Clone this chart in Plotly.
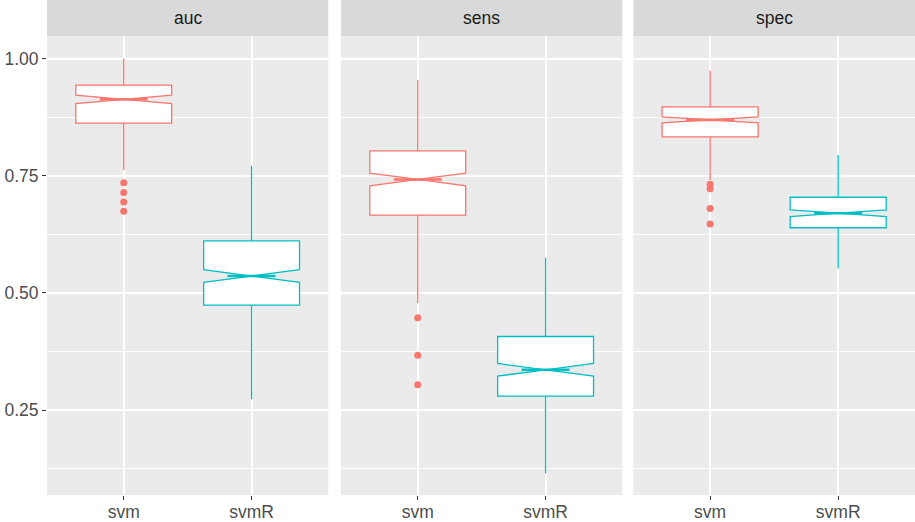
import plotly.graph_objects as go
from plotly.subplots import make_subplots

# facets and groups
metrics = ["auc", "sens", "spec"]
models = ["svm", "svmR"]
colors = ["#F8766D", "#00BFC4"]

# box statistics, one value per facet (auc, sens, spec)
svm_lower = [0.762, 0.478, 0.741]
svm_q1 = [0.862, 0.666, 0.833]
svm_median = [0.913, 0.742, 0.869]
svm_q3 = [0.943, 0.803, 0.897]
svm_upper = [1.000, 0.954, 0.974]
svm_notch = [0.009, 0.0135, 0.0065]

svmR_lower = [0.273, 0.115, 0.552]
svmR_q1 = [0.474, 0.280, 0.639]
svmR_median = [0.536, 0.336, 0.670]
svmR_q3 = [0.611, 0.407, 0.704]
svmR_upper = [0.771, 0.575, 0.794]
svmR_notch = [0.0135, 0.0135, 0.007]

# outliers (svm only)
svm_outliers = [
    [0.735, 0.714, 0.694, 0.674],
    [0.447, 0.367, 0.304],
    [0.732, 0.722, 0.680, 0.647],
]
svmR_outliers = [[], [], []]

y_ticks = [0.25, 0.50, 0.75, 1.00]
y_minor = [0.125, 0.375, 0.625, 0.875]

stats = {
    "svm": (svm_lower, svm_q1, svm_median, svm_q3, svm_upper, svm_notch, svm_outliers),
    "svmR": (svmR_lower, svmR_q1, svmR_median, svmR_q3, svmR_upper, svmR_notch, svmR_outliers),
}

box_w = 0.75
fig = make_subplots(rows=1, cols=3, shared_yaxes=True)

for i, m in enumerate(metrics):
    for j, mod in enumerate(models):
        lo, q1, med, q3, up, nt, outl = stats[mod]
        col = colors[j]
        fig.add_trace(go.Box(
            x=[j], q1=[q1[i]], median=[med[i]], q3=[q3[i]],
            lowerfence=[lo[i]], upperfence=[up[i]],
            notched=True, notchspan=[nt[i]], notchwidth=0.5,
            width=box_w, whiskerwidth=0,
            fillcolor="white", line=dict(color=col, width=1.3),
            boxpoints=False, showlegend=False, hoverinfo="skip",
        ), row=1, col=i + 1)
        # thicker median line across the notch waist
        hw = box_w / 4
        fig.add_trace(go.Scatter(
            x=[j - hw, j + hw], y=[med[i], med[i]], mode="lines",
            line=dict(color=col, width=2.6), showlegend=False, hoverinfo="skip",
        ), row=1, col=i + 1)
        if outl[i]:
            fig.add_trace(go.Scatter(
                x=[j] * len(outl[i]), y=outl[i], mode="markers",
                marker=dict(color=col, size=7), showlegend=False, hoverinfo="skip",
            ), row=1, col=i + 1)

x_domains = [[47 / 915, 328.3 / 915], [341 / 915, 622.3 / 915], [633.3 / 915, 1.0]]
y_dom = [27 / 522, 486 / 522]

for i in range(3):
    fig.update_xaxes(
        domain=x_domains[i], range=[-0.6, 1.6],
        tickvals=[0, 1], ticktext=models,
        showgrid=True, gridcolor="white", gridwidth=1.6, zeroline=False,
        ticks="outside", ticklen=4, tickwidth=1.2, tickcolor="#333333",
        ticklabelstandoff=-3,
        tickfont=dict(family="Liberation Sans, Arial", size=17.5, color="#4D4D4D"),
        showline=False, automargin=False, fixedrange=True,
        row=1, col=i + 1,
    )
    fig.update_yaxes(
        domain=y_dom, range=[0.0689, 1.048],
        tickvals=y_ticks, ticktext=[f"{v:.2f}" for v in y_ticks],
        showticklabels=(i == 0),
        ticks="outside" if i == 0 else "", ticklen=4, tickwidth=1.2, tickcolor="#333333",
        tickfont=dict(family="Liberation Sans, Arial", size=17.5, color="#4D4D4D"),
        showgrid=True, gridcolor="white", gridwidth=1.6, zeroline=False,
        minor=dict(tickvals=y_minor, showgrid=True, gridcolor="white", gridwidth=0.8),
        showline=False, automargin=False, fixedrange=True,
        row=1, col=i + 1,
    )

# panel backgrounds and strips
shapes = []
annotations = []
for i, m in enumerate(metrics):
    x0, x1 = x_domains[i]
    shapes.append(dict(type="rect", xref="paper", yref="paper", x0=x0, x1=x1,
                       y0=y_dom[0], y1=y_dom[1], fillcolor="#EBEBEB",
                       line=dict(width=0), layer="below"))
    shapes.append(dict(type="rect", xref="paper", yref="paper", x0=x0, x1=x1,
                       y0=y_dom[1], y1=1.0, fillcolor="#D9D9D9",
                       line=dict(width=0), layer="below"))
    annotations.append(dict(text=m, xref="paper", yref="paper",
                            x=(x0 + x1) / 2, y=(y_dom[1] + 1.0) / 2,
                            showarrow=False, xanchor="center", yanchor="middle",
                            font=dict(family="Liberation Sans, Arial", size=17.5, color="#1A1A1A")))

fig.update_layout(
    width=915, height=522,
    margin=dict(l=0, r=0, t=0, b=0),
    paper_bgcolor="white", plot_bgcolor="rgba(0,0,0,0)",
    shapes=shapes, annotations=annotations,
    showlegend=False,
)

fig.write_html("out.html", config={"displayModeBar": False},
               post_script="document.body.style.margin='0';")
